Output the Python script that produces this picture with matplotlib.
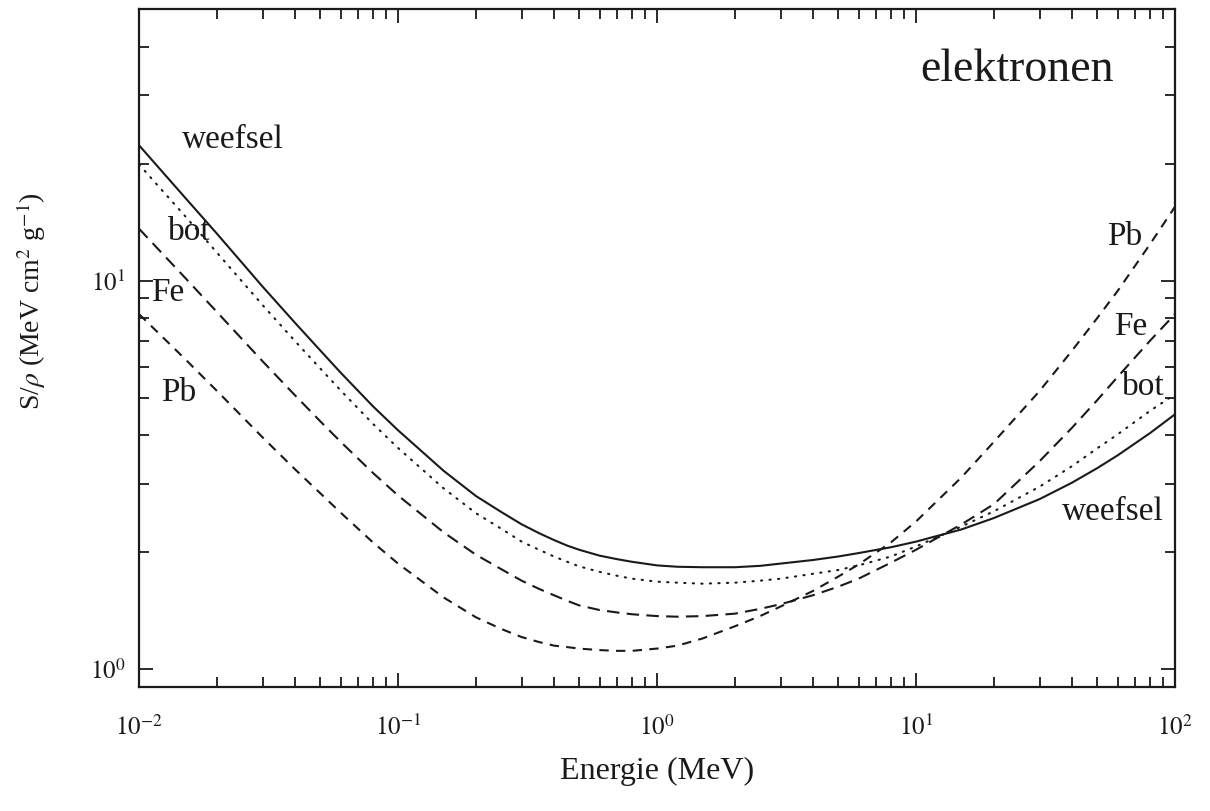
import numpy as np
import matplotlib
matplotlib.use("Agg")
import matplotlib.pyplot as plt
from matplotlib.ticker import LogLocator, FixedLocator, NullFormatter

# energie (MeV)
energy = [0.01, 0.015, 0.02, 0.03, 0.04, 0.05, 0.06, 0.08, 0.1, 0.15, 0.2, 0.25,
          0.3, 0.35, 0.4, 0.45, 0.5, 0.6, 0.7, 0.8, 1.0, 1.2, 1.5, 2, 2.5, 3, 4,
          5, 6, 8, 10, 15, 20, 30, 40, 50, 60, 80, 100]

# S/rho (MeV cm2 g-1)
weefsel = [22.3, 16.4, 13.2, 9.65, 7.79, 6.62, 5.80, 4.75, 4.12, 3.24, 2.79, 2.54,
           2.36, 2.24, 2.15, 2.08, 2.03, 1.96, 1.92, 1.89, 1.85, 1.835, 1.83, 1.83,
           1.845, 1.87, 1.91, 1.95, 1.99, 2.06, 2.13, 2.29, 2.45, 2.74, 3.02,
           3.29, 3.55, 4.05, 4.53]
bot = [19.9, 14.7, 11.8, 8.65, 6.99, 5.95, 5.22, 4.28, 3.71, 2.92, 2.52, 2.30,
       2.13, 2.03, 1.95, 1.89, 1.84, 1.78, 1.74, 1.71, 1.68, 1.67, 1.66, 1.67,
       1.69, 1.71, 1.76, 1.80, 1.85, 1.95, 2.07, 2.33, 2.55, 2.95, 3.33, 3.70,
       4.02, 4.62, 5.10]
fe = [13.6, 10.2, 8.3, 6.2, 5.07, 4.35, 3.85, 3.2, 2.80, 2.25, 1.97, 1.81,
      1.69, 1.61, 1.55, 1.50, 1.46, 1.42, 1.40, 1.385, 1.37, 1.365, 1.37, 1.39,
      1.43, 1.47, 1.55, 1.63, 1.71, 1.88, 2.03, 2.36, 2.66, 3.43, 4.18, 4.92,
      5.65, 7.0, 8.2]
pb = [8.2, 6.3, 5.2, 3.95, 3.27, 2.84, 2.53, 2.12, 1.87, 1.53, 1.36, 1.27,
      1.21, 1.175, 1.15, 1.14, 1.13, 1.12, 1.115, 1.115, 1.13, 1.15, 1.20, 1.29,
      1.37, 1.45, 1.59, 1.73, 1.86, 2.12, 2.40, 3.12, 3.85, 5.2, 6.6, 8.0, 9.4,
      12.4, 15.5]

serif = ["Liberation Serif", "DejaVu Serif"]
plt.rcParams["font.family"] = serif
plt.rcParams["mathtext.fontset"] = "stix"
ink = "#1a1a1a"

fig = plt.figure(figsize=(12.1, 8.11), dpi=100)
ax = fig.add_axes([0.1149, 0.1529, 0.8562, 0.836])

ax.plot(energy, weefsel, color=ink, lw=1.5, ls="-")
ax.plot(energy, bot, color=ink, lw=1.5, ls=(0, (0.6, 3.5)), dash_capstyle="round")
ax.plot(energy, fe, color=ink, lw=1.5, ls=(0, (6, 3.5)))
ax.plot(energy, pb, color=ink, lw=1.5, ls=(0, (4.5, 3.5)))

ax.set_xscale("log")
ax.set_yscale("log")
ax.set_xlim(1e-2, 1e2)
ax.set_ylim(0.9, 50)

ax.xaxis.set_major_locator(FixedLocator([1e-2, 1e-1, 1e0, 1e1, 1e2]))
ax.xaxis.set_minor_locator(LogLocator(base=10, subs=np.arange(2, 10), numticks=20))
ax.yaxis.set_major_locator(FixedLocator([1e0, 1e1]))
ax.yaxis.set_minor_locator(LogLocator(base=10, subs=np.arange(2, 10), numticks=20))
ax.xaxis.set_minor_formatter(NullFormatter())
ax.yaxis.set_minor_formatter(NullFormatter())
ax.set_xticklabels([r"$10^{-2}$", r"$10^{-1}$", r"$10^{0}$", r"$10^{1}$", r"$10^{2}$"])
ax.set_yticklabels([r"$10^{0}$", r"$10^{1}$"])

ax.tick_params(which="both", direction="in", top=True, right=True, color=ink, width=1.3)
ax.tick_params(which="major", length=10)
ax.tick_params(which="minor", length=7)
ax.tick_params(axis="x", which="major", pad=20, labelsize=18, labelcolor=ink)
ax.tick_params(axis="y", which="major", pad=10, labelsize=18, labelcolor=ink)
for s in ax.spines.values():
    s.set_linewidth(1.6)
    s.set_color(ink)

ax.set_xlabel("Energie (MeV)", fontsize=23, color=ink, labelpad=12)
ax.set_ylabel(r"S/$\rho$ (MeV cm$^2$ g$^{-1}$)", fontsize=20, color=ink)
ax.yaxis.set_label_coords(-0.088, 0.57)

# labels in the plot
ax.text(0.941, 0.91, "elektronen", transform=ax.transAxes, fontsize=33,
        color=ink, ha="right", va="center")
left = [("weefsel", 182, 140), ("bot", 168, 232), ("Fe", 151, 293), ("Pb", 161, 393)]
right = [("Pb", 1142, 237), ("Fe", 1147, 327), ("bot", 1165, 387), ("weefsel", 1164, 512)]
H = 811
for txt, px, py in left:
    fig.text(px / 1210, 1 - py / H, txt, fontsize=24, color=ink, ha="left", va="center")
for txt, px, py in right:
    fig.text(px / 1210, 1 - py / H, txt, fontsize=24, color=ink, ha="right", va="center")

fig.savefig("out.png", dpi=100, facecolor="white")
